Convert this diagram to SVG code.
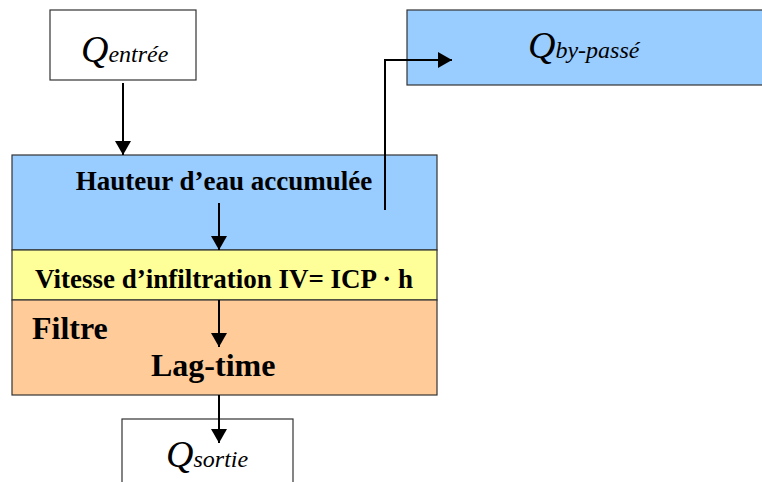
<svg xmlns="http://www.w3.org/2000/svg" width="762" height="482" viewBox="0 0 762 482">
<defs>
<marker id="ah" markerWidth="14" markerHeight="16" refX="14" refY="8" orient="auto" markerUnits="userSpaceOnUse" viewBox="0 0 14 16">
<path d="M0,0 L14,8 L0,16 z" fill="#000"/>
</marker>
<style>
.box{stroke:#333;stroke-width:1.2}
.q{font-family:"Liberation Serif",serif;font-style:italic;fill:#000;font-size:38px}
.s{font-size:24px}
.b{font-family:"Liberation Serif",serif;font-weight:bold;fill:#000}
.c{fill:none;stroke:#000;stroke-width:2;marker-end:url(#ah)}
</style>
</defs>
<rect width="762" height="482" fill="#fff"/>
<g id="q-entree">
<rect class="box" x="50" y="10" width="146" height="70" fill="#fff"/>
<text class="q" x="81" y="62">Q<tspan class="s">entrée</tspan></text>
</g>
<g id="q-bypass">
<rect class="box" x="407" y="10" width="360" height="75" fill="#99ccff"/>
<text class="q" x="528" y="58">Q<tspan class="s">by-passé</tspan></text>
</g>
<g id="hauteur">
<rect class="box" x="12" y="155" width="425" height="95" fill="#99ccff"/>
<text class="b" x="224" y="190" font-size="27" text-anchor="middle">Hauteur d’eau accumulée</text>
</g>
<g id="vitesse">
<rect class="box" x="12" y="250" width="425" height="50" fill="#ffff99"/>
<text class="b" x="224" y="288" font-size="27" text-anchor="middle">Vitesse d’infiltration IV= ICP · h</text>
</g>
<g id="filtre">
<rect class="box" x="12" y="300" width="425" height="95" fill="#ffcc99"/>
<text class="b" x="32" y="339" font-size="32">Filtre</text>
<text class="b" x="151" y="376" font-size="32">Lag-time</text>
</g>
<g id="q-sortie">
<rect class="box" x="122" y="419" width="171" height="80" fill="#fff"/>
<text class="q" x="166" y="467">Q<tspan class="s">sortie</tspan></text>
</g>
<g id="connectors">
<path class="c" d="M123,83 V155"/>
<path class="c" d="M385,210 V60 H452"/>
<path class="c" d="M219,203 V250"/>
<path class="c" d="M219,300 V347"/>
<path class="c" d="M219,395 V443"/>
</g>
</svg>
